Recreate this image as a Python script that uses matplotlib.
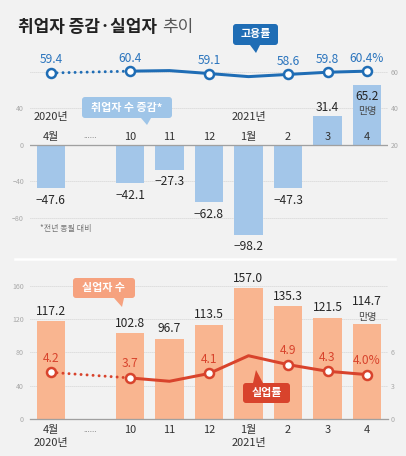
import matplotlib
matplotlib.use("Agg")
import matplotlib.pyplot as plt
from matplotlib.patches import FancyBboxPatch, Polygon

plt.rcParams['font.family'] = ['Noto Sans CJK KR', 'DejaVu Sans']

# ---------------- data ----------------
months = ['4월', '10', '11', '12', '1월', '2', '3', '4']
years = {'4월': '2020년', '1월': '2021년'}
emp_change = [-47.6, -42.1, -27.3, -62.8, -98.2, -47.3, 31.4, 65.2]
emp_rate = [59.4, 60.4, 60.7, 59.1, 57.4, 58.6, 59.8, 60.4]
emp_rate_labels = ['59.4', '60.4', '', '59.1', '', '58.6', '59.8', '60.4%']
unemployed = [117.2, 102.8, 96.7, 113.5, 157.0, 135.3, 121.5, 114.7]
unemp_rate = [4.2, 3.7, 3.4, 4.1, 5.7, 4.9, 4.3, 4.0]
unemp_rate_labels = ['4.2', '3.7', '', '4.1', '', '4.9', '4.3', '4.0%']
gap_label = '......'

# ---------------- style ----------------
BG = '#f2f2f2'
BLUE_BAR = '#a3c6e9'
BLUE = '#1f6db5'
BLUE_TXT = '#2a74bd'
SALMON = '#f9b590'
RED = '#d8432c'
GRID = '#c4c4c4'
TICK = '#a8a8a8'
DARK = '#262626'

W, H = 406, 456
DPI = 72
fig = plt.figure(figsize=(W / DPI, H / DPI), dpi=DPI, facecolor=BG)

pos = [0] + list(range(2, 9))
gap_pos = 1


def px_axes(x0, y0, x1, y1):
    return [x0 / W, 1 - y1 / H, (x1 - x0) / W, (y1 - y0) / H]


XLIM = (-0.53, 8.53)

# ---------------- top panel ----------------
ax1 = fig.add_axes(px_axes(30, 60, 388, 250))
ax1.set_facecolor('none')
ax1.set_xlim(*XLIM)
ax1.set_ylim(-115, 93)
for s in ax1.spines.values():
    s.set_visible(False)
ax1.set_xticks([])
ax1.set_yticks([40, 0, -40, -80])
ax1.set_yticklabels(['40', '0', '−40', '−80'])
ax1.tick_params(axis='y', length=0, labelsize=7, labelcolor=TICK, pad=6)
for g in [80, 40, -40, -80]:
    ax1.axhline(g, color=GRID, lw=0.8, ls=(0, (1, 1.5)), zorder=0)
ax1.axhline(0, color='#a0a0a0', lw=1.3, zorder=3)

ax1.bar(pos, emp_change, width=0.72, color=BLUE_BAR, zorder=2)

for p, v, m in zip(pos, emp_change, months):
    txt = f'{v:.1f}'.replace('-', '−')
    if v < 0:
        ax1.annotate(txt, (p, v), xytext=(0, -12), textcoords='offset points',
                     ha='center', va='center', fontsize=12, color=DARK)
    elif v > 50:
        ax1.annotate(txt, (p, v), xytext=(0, -11), textcoords='offset points',
                     ha='center', va='center', fontsize=12, color=DARK)
        ax1.annotate('만명', (p, v), xytext=(0, -26), textcoords='offset points',
                     ha='center', va='center', fontsize=10, color='#444444')
    else:
        ax1.annotate(txt, (p, v), xytext=(0, 9), textcoords='offset points',
                     ha='center', va='center', fontsize=12, color=DARK)
    ax1.annotate(m, (p, 0), xytext=(0, 8), textcoords='offset points',
                 ha='center', va='center', fontsize=11, color='#333333', zorder=5)
    if m in years:
        ax1.annotate(years[m], (p, 0), xytext=(0, 28), textcoords='offset points',
                     ha='center', va='center', fontsize=11, color='#333333')
ax1.annotate(gap_label, (gap_pos, 0), xytext=(0, 9), textcoords='offset points',
             ha='center', va='center', fontsize=8, color='#555555')

ax1r = ax1.twinx()
ax1r.set_ylim(-37.5, 66.5)
for s in ax1r.spines.values():
    s.set_visible(False)
ax1r.set_yticks([60, 40, 20])
ax1r.tick_params(axis='y', length=0, labelsize=7, labelcolor=TICK, pad=3)

ax1r.plot(pos[:2], emp_rate[:2], color=BLUE, lw=3, ls=(0, (0.01, 2)),
          dash_capstyle='round', zorder=4)
ax1r.plot(pos[1:], emp_rate[1:], color=BLUE, lw=3, solid_joinstyle='round', zorder=4)
mk = [i for i, l in enumerate(emp_rate_labels) if l]
ax1r.plot([pos[i] for i in mk], [emp_rate[i] for i in mk], 'o', ms=9,
          mfc='white', mec=BLUE, mew=2.5, zorder=5, ls='none')
for i in mk:
    ax1r.annotate(emp_rate_labels[i], (pos[i], emp_rate[i]), xytext=(0, 13),
                  textcoords='offset points', ha='center', va='center',
                  fontsize=12, color=BLUE_TXT)

# ---------------- bottom panel ----------------
ax2 = fig.add_axes(px_axes(30, 275, 388, 419))
ax2.set_facecolor('none')
ax2.set_xlim(*XLIM)
ax2.set_ylim(0, 173)
for s in ax2.spines.values():
    s.set_visible(False)
ax2.set_xticks([])
ax2.set_yticks([0, 40, 80, 120, 160])
ax2.tick_params(axis='y', length=0, labelsize=7, labelcolor=TICK, pad=6)
for g in [40, 80, 120, 160]:
    ax2.axhline(g, color=GRID, lw=0.8, ls=(0, (1, 1.5)), zorder=0)
ax2.axhline(0, color='#a0a0a0', lw=1.3, zorder=3, clip_on=False)

ax2.bar(pos, unemployed, width=0.72, color=SALMON, zorder=2)
for k, (p, v, m) in enumerate(zip(pos, unemployed, months)):
    if k == len(pos) - 1:
        ax2.annotate(f'{v:.1f}', (p, v), xytext=(0, 22), textcoords='offset points',
                     ha='center', va='center', fontsize=12, color=DARK)
        ax2.annotate('만명', (p, v), xytext=(0, 7), textcoords='offset points',
                     ha='center', va='center', fontsize=10, color='#444444')
    else:
        ax2.annotate(f'{v:.1f}', (p, v), xytext=(0, 10), textcoords='offset points',
                     ha='center', va='center', fontsize=12, color=DARK)
    ax2.annotate(m, (p, 0), xytext=(0, -11), textcoords='offset points',
                 ha='center', va='center', fontsize=11, color='#333333')
    if m in years:
        ax2.annotate(years[m], (p, 0), xytext=(0, -24), textcoords='offset points',
                     ha='center', va='center', fontsize=11, color='#333333')
ax2.annotate(gap_label, (gap_pos, 0), xytext=(0, -10), textcoords='offset points',
             ha='center', va='center', fontsize=8, color='#555555')

ax2r = ax2.twinx()
ax2r.set_ylim(0, 173 * 3 / 40)
for s in ax2r.spines.values():
    s.set_visible(False)
ax2r.set_yticks([0, 3, 6])
ax2r.tick_params(axis='y', length=0, labelsize=7, labelcolor=TICK, pad=3)

ax2r.plot(pos[:2], unemp_rate[:2], color=RED, lw=3, ls=(0, (0.01, 2)),
          dash_capstyle='round', zorder=4)
ax2r.plot(pos[1:], unemp_rate[1:], color=RED, lw=3, solid_joinstyle='round', zorder=4)
mk2 = [i for i, l in enumerate(unemp_rate_labels) if l]
ax2r.plot([pos[i] for i in mk2], [unemp_rate[i] for i in mk2], 'o', ms=9,
          mfc='white', mec=RED, mew=2.5, zorder=5, ls='none')
for i in mk2:
    ax2r.annotate(unemp_rate_labels[i], (pos[i], unemp_rate[i]), xytext=(0, 14),
                  textcoords='offset points', ha='center', va='center',
                  fontsize=12, color=RED)

# ---------------- overlay: title, callouts, divider ----------------
ov = fig.add_axes([0, 0, 1, 1])
ov.set_xlim(0, W)
ov.set_ylim(H, 0)
ov.axis('off')
ov.patch.set_visible(False)

ov.plot([15, 395], [259, 259], color='white', lw=2.5)
ov.text(40, 228, '*전년 동월 대비', fontsize=8, color='#777777', ha='left', va='center')

t1 = ov.text(18, 27, '취업자 증감·실업자', fontsize=17, fontweight='bold',
             color='#222222', ha='left', va='center')
fig.canvas.draw()
bb = t1.get_window_extent(fig.canvas.get_renderer())
x_end = bb.x1
ov.text(x_end + 5, 27, '추이', fontsize=17, color='#555555', ha='left', va='center')


def callout(x0, y0, x1, y1, color, text, tip, base_x, up=False):
    box = FancyBboxPatch((x0, y0), x1 - x0, y1 - y0,
                         boxstyle='round,pad=0,rounding_size=3',
                         fc=color, ec='none', zorder=10)
    ov.add_patch(box)
    by = y0 if up else y1
    tri = Polygon([(base_x - 5, by), (base_x + 5, by), tip], closed=True,
                  fc=color, ec='none', zorder=10)
    ov.add_patch(tri)
    ov.text((x0 + x1) / 2, (y0 + y1) / 2, text, color='white', fontsize=11,
            fontweight='bold', ha='center', va='center', zorder=11)


callout(233, 24, 278, 45, BLUE, '고용률', (256, 53), 255)
callout(82, 97, 172, 118, '#9fc5e8', '취업자 수 증감*', (147, 125), 146)
callout(73, 278, 135, 298, '#f6a27f', '실업자 수', (122, 307), 119)
callout(243, 383, 290, 403, RED, '실업률', (256, 370), 258, up=True)

fig.savefig('out.png', dpi=DPI, facecolor=BG)
